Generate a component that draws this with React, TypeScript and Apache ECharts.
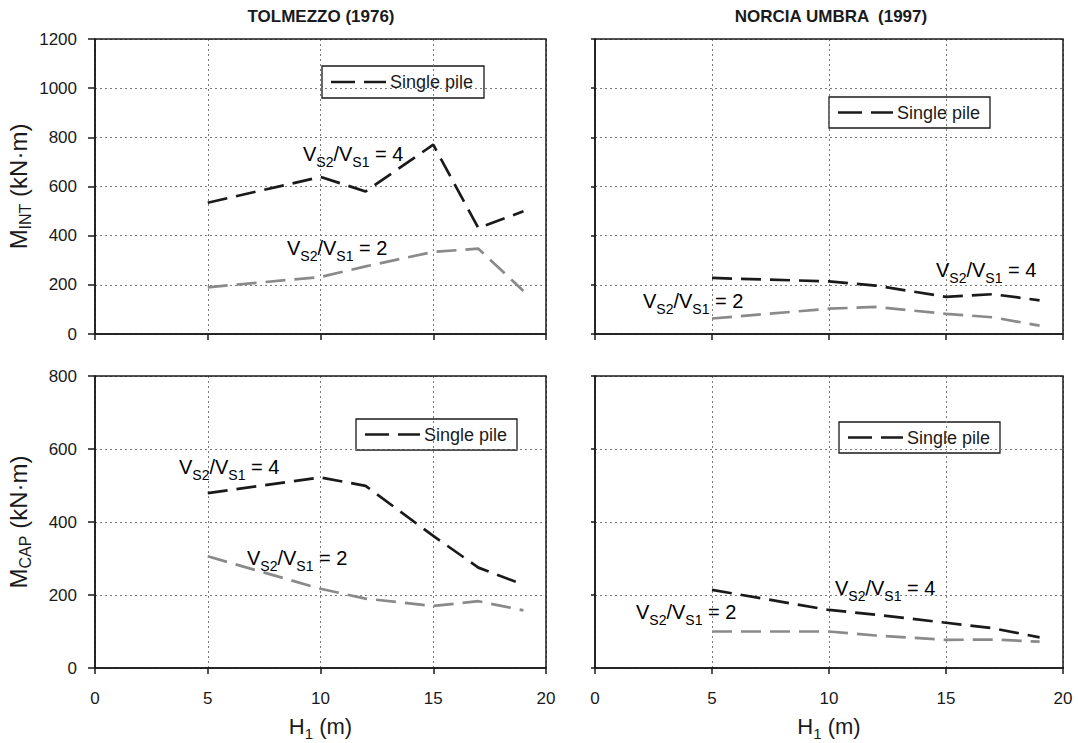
import React, { useEffect, useRef } from "react";
import * as echarts from "echarts";

const H = [5, 10, 12, 15, 17, 19];
const tolIntVs4 = [534, 639, 580, 770, 431, 499];
const tolIntVs2 = [190, 232, 275, 334, 347, 175];
const norIntVs4 = [228, 214, 197, 151, 162, 137];
const norIntVs2 = [63, 103, 110, 82, 68, 34];
const tolCapVs4 = [479, 522, 499, 362, 275, 228];
const tolCapVs2 = [306, 217, 190, 170, 183, 158];
const norCapVs4 = [214, 159, 146, 124, 109, 84];
const norCapVs2 = [100, 100, 89, 77, 78, 72];

const panelTitles = ["TOLMEZZO (1976)", "NORCIA UMBRA  (1997)"];
const yNames = ["{m|M}{sub|INT}{m| (kN·m)}", "{m|M}{sub|CAP}{m| (kN·m)}"];
const xName = "{m|H}{sub|1}{m| (m)}";
const legendText = "Single pile";
const ratioLabels = ["4", "2"];

const FONT = "'Liberation Sans', Arial, Helvetica, sans-serif";
const INK = "#1a1a1a";
const GRAY = "#8a8a8a";

const grids = [
  { left: 95, top: 39, width: 451, height: 295 },
  { left: 595, top: 39, width: 468, height: 295 },
  { left: 95, top: 376, width: 451, height: 292 },
  { left: 595, top: 376, width: 468, height: 292 },
];

const pair = (ys: number[]) => H.map((h, i) => [h, ys[i]]);

const ratioRich = {
  v: { fontSize: 20, fontFamily: FONT, color: INK, padding: [0, 0, 5, 0], verticalAlign: "bottom" },
  s: { fontSize: 14, fontFamily: FONT, color: INK, verticalAlign: "bottom" },
};

function ratioText(x: number, y: number, k: string) {
  return {
    type: "text",
    x,
    y,
    z: 50,
    style: {
      text: `{v|V}{s|S2}{v|/V}{s|S1}{v| = ${k}}`,
      rich: ratioRich,
      verticalAlign: "middle",
      align: "left",
    },
  };
}

function legendBox(x: number, y: number, w: number, h: number) {
  return {
    type: "group",
    x,
    y,
    z: 60,
    children: [
      {
        type: "rect",
        shape: { x: 0, y: 0, width: w, height: h },
        style: { fill: "#fff", stroke: INK, lineWidth: 1.3 },
      },
      {
        type: "line",
        shape: { x1: 9, y1: h / 2, x2: 64, y2: h / 2 },
        style: { stroke: INK, lineWidth: 2.6, lineDash: [24, 9] },
      },
      {
        type: "text",
        x: 68,
        y: h / 2,
        style: {
          text: legendText,
          font: `18px ${FONT}`,
          fill: INK,
          verticalAlign: "middle",
          align: "left",
        },
      },
    ],
  };
}

function nameStyle(size: number, subSize: number, drop: number) {
  return {
    fontSize: size,
    fontFamily: FONT,
    color: INK,
    rich: {
      m: { fontSize: size, fontFamily: FONT, color: INK, padding: [0, 0, drop, 0], verticalAlign: "bottom" },
      sub: { fontSize: subSize, fontFamily: FONT, color: INK, verticalAlign: "bottom" },
    },
  };
}

export default function App() {
  const ref = useRef<HTMLDivElement>(null);
  useEffect(() => {
    const chart = echarts.init(ref.current!, null, { renderer: "svg" });

    const xAxes = grids.map((g, i) => ({
      gridIndex: i,
      type: "value",
      min: 0,
      max: 20,
      interval: 5,
      name: i >= 2 ? xName : "",
      nameLocation: "middle",
      nameGap: 47,
      nameTextStyle: nameStyle(22, 15, 4),
      axisLine: { show: true, onZero: false, lineStyle: { color: INK, width: 1.5 } },
      axisTick: { show: true, length: 6, lineStyle: { color: INK, width: 1.5 } },
      axisLabel: {
        show: i >= 2,
        margin: 22,
        fontSize: 17,
        fontFamily: FONT,
        color: INK,
        formatter: (v: number) => String(v),
      },
      splitLine: { show: true, lineStyle: { color: "#7a7a7a", width: 1, type: [2, 3] } },
    }));

    const yAxes = grids.map((g, i) => ({
      gridIndex: i,
      type: "value",
      min: 0,
      max: i < 2 ? 1200 : 800,
      interval: 200,
      name: i % 2 === 0 ? yNames[i < 2 ? 0 : 1] : "",
      nameLocation: "middle",
      nameGap: 62,
      nameRotate: 90,
      nameTextStyle: nameStyle(24, 16, 3),
      axisLine: { show: true, onZero: false, lineStyle: { color: INK, width: 1.5 } },
      axisTick: { show: true, length: i % 2 === 0 ? 7 : 4, lineStyle: { color: INK, width: 1.5 } },
      axisLabel: {
        show: i % 2 === 0,
        margin: 18,
        fontSize: 17,
        fontFamily: FONT,
        color: INK,
        formatter: (v: number) => String(v),
      },
      splitLine: { show: true, lineStyle: { color: "#7a7a7a", width: 1, type: [2, 3] } },
    }));

    const dataSets = [
      [tolIntVs4, tolIntVs2],
      [norIntVs4, norIntVs2],
      [tolCapVs4, tolCapVs2],
      [norCapVs4, norCapVs2],
    ];
    const series: any[] = [];
    dataSets.forEach((pairSet, i) => {
      pairSet.forEach((ys, j) => {
        series.push({
          type: "line",
          name: `Single pile Vs2/Vs1=${ratioLabels[j]}`,
          xAxisIndex: i,
          yAxisIndex: i,
          data: pair(ys),
          showSymbol: false,
          symbol: "none",
          z: j === 0 ? 4 : 3,
          lineStyle: { color: j === 0 ? INK : GRAY, width: 2.7, type: [20, 9] },
        });
      });
    });

    const frames = grids.map((g) => ({
      type: "rect",
      z: 40,
      shape: { x: g.left, y: g.top, width: g.width, height: g.height },
      style: { fill: "none", stroke: INK, lineWidth: 1.5 },
    }));

    const titleText = (x: number, t: string) => ({
      type: "text",
      x,
      y: 16,
      style: {
        text: t,
        font: `bold 17px ${FONT}`,
        fill: INK,
        align: "center",
        verticalAlign: "middle",
      },
    });

    const graphic: any[] = [
      ...frames,
      titleText(321, panelTitles[0]),
      titleText(831, panelTitles[1]),
      legendBox(322, 66, 162, 32),
      legendBox(829, 97, 161, 31),
      legendBox(356, 419, 161, 31),
      legendBox(839, 422, 161, 31),
      ratioText(303, 156, ratioLabels[0]),
      ratioText(287, 250, ratioLabels[1]),
      ratioText(936, 272, ratioLabels[0]),
      ratioText(643, 303, ratioLabels[1]),
      ratioText(179, 469, ratioLabels[0]),
      ratioText(247, 560, ratioLabels[1]),
      ratioText(835, 590, ratioLabels[0]),
      ratioText(636, 614, ratioLabels[1]),
    ];

    chart.setOption({
      animation: false,
      backgroundColor: "#fff",
      textStyle: { fontFamily: FONT },
      grid: grids.map((g) => ({ ...g, containLabel: false })),
      xAxis: xAxes,
      yAxis: yAxes,
      series,
      graphic,
    });
    return () => chart.dispose();
  }, []);

  return (
    <div
      ref={ref}
      style={{ position: "absolute", left: 0, top: 0, width: 1078, height: 743, background: "#fff" }}
    />
  );
}
